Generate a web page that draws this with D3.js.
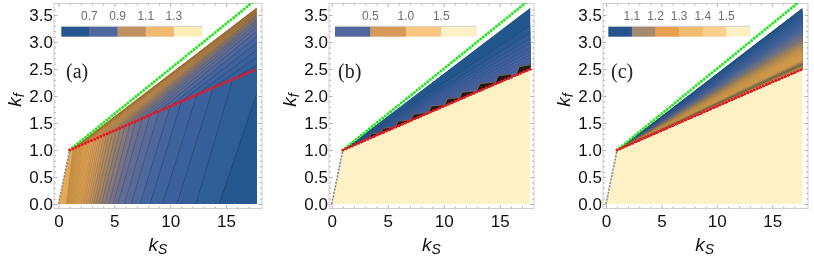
<!DOCTYPE html>
<html><head><meta charset="utf-8">
<script src="https://cdn.jsdelivr.net/npm/d3@7"></script>
<style>
html,body{margin:0;padding:0;background:#fff}
svg{display:block;filter:blur(0.45px)}
text{font-family:"Liberation Sans",Arial,sans-serif}
</style></head><body>
<svg id="c" width="814" height="257"></svg>
<script>
// --- data ---
const xTicks=[0,5,10,15];
const yTicks=[0,0.5,1,1.5,2,2.5,3,3.5];
const edgeKs=17.75, edgeTopKf=3.64;
const kinkPoint=[1,1];
const redKs=[1,5,9,13,17.75];
const redKf=[1,1.36,1.72,2.08,2.5];
const greenKs=[1,18];
const greenKf=[1,3.84];

// panel a: contour lines (bottom crossing, red-line crossing, right-edge end) and level
const aBottom=[14.4,12.3,10.6,9.3,8.2,7.3,6.5,5.9,5.3,4.9,4.5,4.15,3.85,3.6,3.35,3.15,2.95,2.77,2.6,2.45,2.3,2.17,2.05,1.93,1.82,1.72,1.62,1.53,1.44,1.36,1.28,1.2,1.13,1.06,1.0,0.93,0.87,0.81,0.75,0.7];
const aRed=[17.75,15.6,13.85,12.4,11.0,10,9.0,8.2,7.5,6.9,6.4,5.95,5.55,5.2,4.85,4.55,4.3,4.05,3.8,3.6,3.4,3.22,3.05,2.88,2.72,2.58,2.45,2.32,2.2,2.1,2.0,1.9,1.8,1.72,1.64,1.56,1.49,1.42,1.36,1.3];
const aEnd=[2.05,2.57,2.72,2.85,2.98,3.1,3.2,3.28,3.34,3.39,3.42,3.45,3.47,3.49,3.5,3.51,3.52,3.53,3.54,3.545,3.55,3.555,3.56,3.565,3.57,3.575,3.58,3.585,3.59,3.595,3.6,3.605,3.61,3.615,3.62,3.625,3.63,3.633,3.636,3.638];
const aLevels=[0.62,0.64,0.66,0.68,0.70,0.72,0.74,0.76,0.78,0.80,0.82,0.84,0.86,0.88,0.90,0.92,0.94,0.96,0.98,1.0,1.02,1.04,1.06,1.08,1.1,1.12,1.14,1.16,1.18,1.2,1.22,1.24,1.26,1.28,1.3,1.32,1.34,1.36,1.38,1.4];
const aStops=[0.62,0.64,0.68,0.72,0.80,0.90,1.0,1.1,1.4];
const aColors=["#25588f","#2f5d96","#3a619e","#4565a0","#6a6f90","#a58562","#d29a58","#e5a552","#e8a850"];
const aLineOpacity=[0.45,0.45,0.45,0.45,0.45,0.42,0.4,0.38,0.36,0.34,0.32,0.3,0.28,0.27,0.26,0.25,0.24,0.23,0.22,0.22,0.21,0.21,0.2,0.2,0.2,0.2,0.2,0.2,0.2,0.2,0.2,0.2,0.2,0.2,0.2,0.2,0.2,0.2,0.2,0.2];

// panel b: fan lines from the kink to the right edge, and steps on the red line
const bEnd=[3.64,3.31,3.17,3.07,2.98,2.9,2.83,2.76,2.7,2.65,2.6];
const bBandColors=["#24568e","#2a5992","#305c96","#355e99","#3a609c","#3e619e","#4262a0","#4564a2","#4865a3","#4b66a5","#4c66a5"];
const bStepKs=[3.8,4.9,6.3,7.7,9.3,10.7,12.0,13.7,15.3,17.1];
const bStepHalf=[0.5,0.55,0.65,0.65,0.7,0.65,0.65,0.8,0.75,0.65];
const bStepH=[0.045,0.05,0.055,0.06,0.065,0.07,0.075,0.085,0.09,0.1];

// panel c: fan lines from the kink to the right edge
const cEnd=[3.64,3.6,3.56,3.52,3.48,3.44,3.4,3.36,3.32,3.28,3.24,3.2,3.16,3.12,3.08,3.05,3.02,2.99,2.96,2.93,2.9,2.87,2.84,2.81,2.78,2.75,2.72,2.69,2.66,2.63,2.6,2.57,2.54];
const cBandColors=["#24568c","#27588e","#2b5a91","#2f5c94","#335e97","#375f99","#3b619b","#3f639d","#44659e","#4a689e","#526b9b","#5c6f96","#68738f","#747787","#807b7f","#8c8075","#98856b","#a58a62","#b08e5a","#ba9256","#c49653","#cc9a51","#d29d50","#d7a04f","#dba24f","#dea34f","#dea34f","#dba14f","#c8944f","#94794f","#7c6e4e","#a0854e","#d09c4f"];

// legends
const aLegendLabels=["0.7","0.9","1.1","1.3"];
const aLegendColors=["#25558c","#5068a0","#c09060","#f0b870","#fdeeb8"];
const bLegendLabels=["0.5","1.0","1.5"];
const bLegendColors=["#50689f","#d89a58","#fcc680","#fdf0c5"];
const cLegendLabels=["1.1","1.2","1.3","1.4","1.5"];
const cLegendColors=["#25558c","#a58a70","#e8a050","#f5bc70","#fbcf8c","#fdf0c5"];

const panels=[
 {id:"a",x0:58.5,ppu:11.17,frameL:54,frameR:262,legL:61.3,legR:202,labels:aLegendLabels,colors:aLegendColors,tagX:66},
 {id:"b",x0:331.7,ppu:11.2,frameL:329,frameR:534,legL:335,legR:476.7,labels:bLegendLabels,colors:bLegendColors,tagX:338},
 {id:"c",x0:606,ppu:11.08,frameL:603,frameR:808,legL:608.3,legR:750,labels:cLegendLabels,colors:cLegendColors,tagX:611}
];
const cream="#fdf1c5";
const svg=d3.select("#c");
const y=d3.scaleLinear().domain([0,3.7]).range([204,4.2]);
const redAt=d3.scaleLinear().domain(redKs).range(redKf);
const aColor=d3.scaleLinear().domain(aStops).range(aColors);
const contourStroke="rgba(25,25,35,0.3)";

panels.forEach(p=>{
  const g=svg.append("g").attr("class","panel-"+p.id);
  const x=d3.scaleLinear().domain([0,18]).range([p.x0,p.x0+18*p.ppu]);
  const line=d3.line().x(d=>x(d[0])).y(d=>y(d[1]));
  const poly=pts=>line(pts)+"Z";
  const clipId="clip-"+p.id;
  const region=[[0,0],kinkPoint,[edgeKs,edgeTopKf],[edgeKs,0]];
  g.append("clipPath").attr("id",clipId).append("path").attr("d",poly(region));
  const plot=g.append("g").attr("clip-path",`url(#${clipId})`);
  const redEnd=redAt(edgeKs);

  if(p.id==="a"){
    plot.append("path").attr("d",poly(region)).attr("fill",aColor(aLevels[aLevels.length-1]));
    const idx=d3.range(aBottom.length).reverse();
    plot.selectAll("path.band").data(idx).join("path").attr("class","band")
      .attr("fill",i=>aColor(aLevels[i]))
      .attr("d",i=>poly([[aBottom[i],0],[aRed[i],Math.min(redAt(aRed[i]),aEnd[i])],[edgeKs,aEnd[i]],[edgeKs,0]]));
    plot.selectAll("path.cont").data(idx).join("path").attr("class","cont")
      .attr("fill","none").attr("stroke","#191923").attr("stroke-opacity",i=>aLineOpacity[i]).attr("stroke-width",0.6)
      .attr("d",i=>line([[aBottom[i],0],[aRed[i],Math.min(redAt(aRed[i]),aEnd[i])],[edgeKs,aEnd[i]]]));
  } else {
    plot.append("path").attr("d",poly(region)).attr("fill",cream);
    const ends=p.id==="b"?bEnd:cEnd, cols=p.id==="b"?bBandColors:cBandColors;
    plot.selectAll("path.band").data(ends).join("path").attr("class","band")
      .attr("fill",(d,i)=>cols[i])
      .attr("stroke",(d,i)=>i===0?"none":(p.id==="b"?contourStroke:"rgba(25,25,35,0.2)")).attr("stroke-width",0.5)
      .attr("d",d=>poly([kinkPoint,[edgeKs,d],[edgeKs,redEnd]]));
    if(p.id==="b"){
      plot.selectAll("path.step").data(bStepKs).join("path").attr("class","step")
        .attr("fill","#211a13").attr("stroke","#8a6a40").attr("stroke-width",0.7)
        .attr("d",(k,i)=>{const w=bStepHalf[i],h=bStepH[i],top=redAt(k)+h;
          return poly([[k-w,redAt(k-w)],[k-w*0.55,top],[k+w,top+h*0.35],[k+w,redAt(k+w)]]);});
    }
  }

  // frame and ticks
  g.append("rect").attr("x",p.frameL).attr("y",3.5).attr("width",p.frameR-p.frameL).attr("height",205)
    .attr("fill","none").attr("stroke","#cfcfcf").attr("stroke-width",1);
  const xMinor=d3.range(0,18).filter(v=>v%5!==0);
  const yMinor=d3.range(0,37).map(v=>v/10).filter(v=>Math.round(v*10)%5!==0);
  const tickColor="#b5b5b5";
  const bx=g.append("g").attr("transform","translate(0,208.5)")
    .call(d3.axisBottom(x).tickValues(xTicks).tickSize(-3.5).tickPadding(6).tickFormat(d3.format("d")));
  const by=g.append("g").attr("transform",`translate(${p.frameL},0)`)
    .call(d3.axisLeft(y).tickValues(yTicks).tickSize(-3.5).tickPadding(1).tickFormat(d3.format(".1f")));
  [bx,by].forEach(a=>{a.select(".domain").remove();a.selectAll("line").attr("stroke",tickColor);
    a.selectAll("text").attr("font-size",17).attr("fill","#111").attr("font-family","Liberation Sans");});
  g.append("g").attr("transform","translate(0,208.5)").call(d3.axisBottom(x).tickValues(xMinor).tickSize(-2).tickFormat(""))
    .call(a=>{a.select(".domain").remove();a.selectAll("line").attr("stroke",tickColor);});
  g.append("g").attr("transform",`translate(${p.frameL},0)`).call(d3.axisLeft(y).tickValues(yMinor).tickSize(-2).tickFormat(""))
    .call(a=>{a.select(".domain").remove();a.selectAll("line").attr("stroke",tickColor);});
  g.append("g").attr("transform","translate(0,3.5)").call(d3.axisTop(x).tickValues(xTicks).tickSize(-3.5).tickFormat(""))
    .call(a=>{a.select(".domain").remove();a.selectAll("line").attr("stroke",tickColor);});
  g.append("g").attr("transform","translate(0,3.5)").call(d3.axisTop(x).tickValues(xMinor).tickSize(-2).tickFormat(""))
    .call(a=>{a.select(".domain").remove();a.selectAll("line").attr("stroke",tickColor);});
  g.append("g").attr("transform",`translate(${p.frameR},0)`).call(d3.axisRight(y).tickValues(yTicks).tickSize(-3.5).tickFormat(""))
    .call(a=>{a.select(".domain").remove();a.selectAll("line").attr("stroke",tickColor);});
  g.append("g").attr("transform",`translate(${p.frameR},0)`).call(d3.axisRight(y).tickValues(yMinor).tickSize(-2).tickFormat(""))
    .call(a=>{a.select(".domain").remove();a.selectAll("line").attr("stroke",tickColor);});

  // dotted guide lines
  g.append("clipPath").attr("id","fr-"+p.id).append("rect").attr("x",p.frameL).attr("y",3).attr("width",p.frameR-p.frameL).attr("height",205);
  const over=g.append("g").attr("clip-path",`url(#fr-${p.id})`);
  over.append("path").attr("d",line([[0,0],kinkPoint])).attr("fill","none").attr("stroke","#8a8a8a")
    .attr("stroke-width",1.6).attr("stroke-dasharray","2.2 1.2");
  over.append("path").attr("d",line(greenKs.map((k,i)=>[k,greenKf[i]]))).attr("fill","none").attr("stroke","#1fe81a")
    .attr("stroke-width",3).attr("stroke-linecap","round").attr("stroke-dasharray","0 3.4");
  over.append("path").attr("d",line(redKs.map((k,i)=>[k,redKf[i]]))).attr("fill","none").attr("stroke","#f01420")
    .attr("stroke-width",3).attr("stroke-linecap","round").attr("stroke-dasharray","0 3.4");

  // legend
  const lx=d3.scaleBand().domain(d3.range(p.colors.length)).range([p.legL,p.legR]);
  g.append("g").selectAll("rect").data(p.colors).join("rect")
    .attr("x",(d,i)=>lx(i)).attr("y",26.7).attr("width",lx.bandwidth()+0.3).attr("height",10).attr("fill",d=>d);
  g.append("line").attr("x1",p.legL).attr("x2",p.legR).attr("y1",26.3).attr("y2",26.3).attr("stroke","#bbb").attr("stroke-width",0.7);
  g.append("g").selectAll("text").data(p.labels).join("text")
    .attr("x",(d,i)=>lx(i+1)).attr("y",19.5).attr("text-anchor","middle").attr("font-size",12).attr("fill","#6e6e6e").text(d=>d);

  // panel tag and axis titles
  g.append("text").attr("x",p.tagX).attr("y",78).attr("font-size",20).attr("fill","#222")
    .style("font-family","'Liberation Serif',serif").text(`(${p.id})`);
  const xt=g.append("text").attr("x",x(8.9)).attr("y",251).attr("text-anchor","middle").attr("font-size",19).attr("font-style","italic").attr("fill","#111");
  xt.append("tspan").text("k");
  xt.append("tspan").attr("dy",3).attr("font-size",14).text("S");
  const yt=g.append("text").attr("transform",`translate(${p.frameL-33},100) rotate(-90)`).attr("text-anchor","middle").attr("font-size",19).attr("font-style","italic").attr("fill","#111");
  yt.append("tspan").text("k");
  yt.append("tspan").attr("dy",3).attr("font-size",14).text("f");
});
</script>
</body></html>
